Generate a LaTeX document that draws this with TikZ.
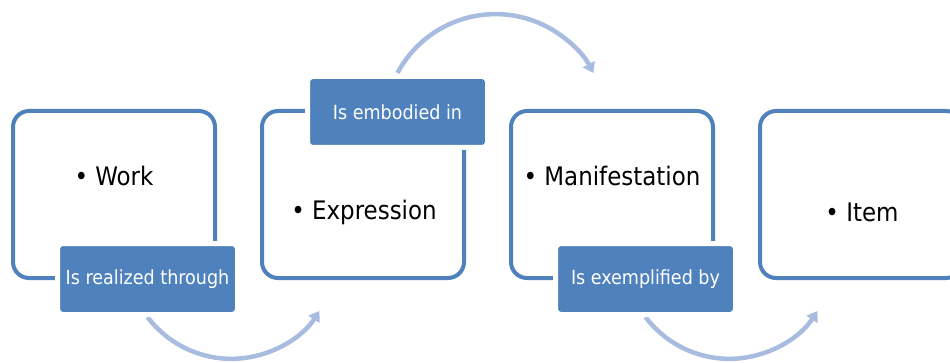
\documentclass[tikz,border=0pt]{standalone}
\usepackage{fontspec}
\setmainfont{DejaVu Sans Condensed}
\usetikzlibrary{arrows.meta}
\definecolor{sblue}{RGB}{79,129,189}
\definecolor{arcblue}{RGB}{167,188,222}
\tikzset{
  entity/.style={draw=sblue, line width=4pt, rounded corners=16pt, minimum width=202pt, minimum height=167pt, inner sep=0pt},
  entitytext/.style={font=\fontsize{25.5}{30}\selectfont, text=black, inner sep=0pt},
  relation/.style={fill=sblue, draw=white, line width=5pt, rounded corners=5pt, minimum width=180pt, minimum height=71pt, inner sep=0pt, text=white, font=\fontsize{19.5}{23}\selectfont},
  flow/.style={draw=arcblue, line width=4.5pt, -{Triangle[length=10pt,width=13pt]}}
}
\begin{document}
\begin{tikzpicture}[x=1pt,y=1pt]
\useasboundingbox (0,0) rectangle (950,362);
\clip (0,0) rectangle (950,362);
% entity boxes
\node[entity] (b1) at (114,167.5) {};
\node[entity] (b2) at (363,167.5) {};
\node[entity] (b3) at (612,167.5) {};
\node[entity] (b4) at (861,167.5) {};
\node[entitytext] (t1) at (114,186) {• Work};
\node[entitytext] (t2) at (364,150) {• Expression};
\node[entitytext] (t3) at (612,186) {• Manifestation};
\node[entitytext] (t4) at (862,150) {• Item};
% arcs
\coordinate (a1) at (147.5,45);
\coordinate (a2) at (397.5,289);
\coordinate (a3) at (645.5,45);
\draw[flow] (a1) arc[start angle=217, end angle=327, radius=105];
\draw[flow] (a2) arc[start angle=152, end angle=28, radius=111];
\draw[flow] (a3) arc[start angle=217, end angle=327, radius=105];
% relation labels
\node[relation] (l1) at (147.5,83) {Is realized through};
\node[relation] (l2) at (397.5,250) {Is embodied in};
\node[relation] (l3) at (645.5,83) {Is exemplified by};
\end{tikzpicture}
\end{document}
